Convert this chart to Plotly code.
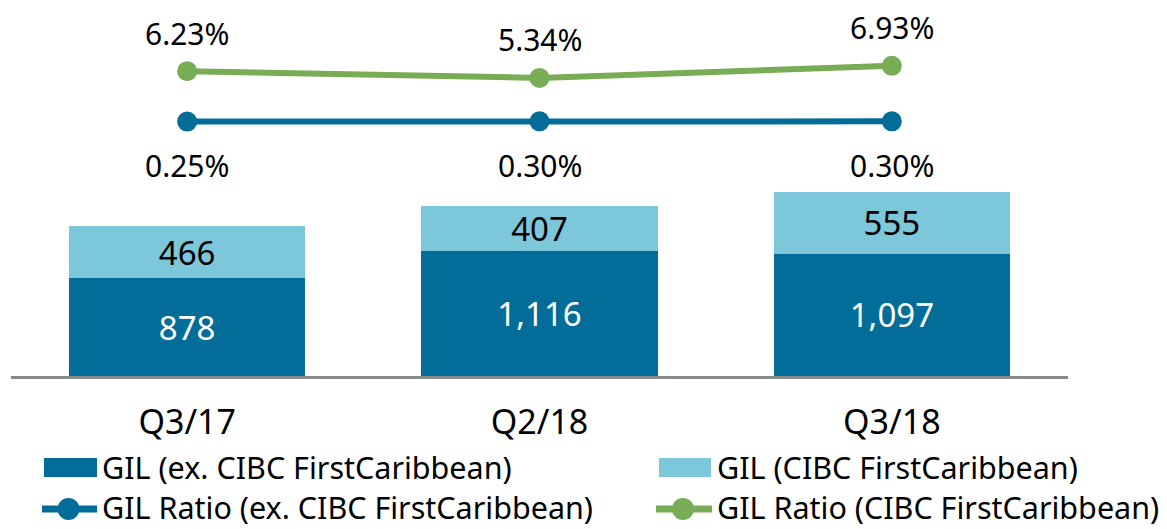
import plotly.graph_objects as go

# ---------------- data ----------------
quarters = ["Q3/17", "Q2/18", "Q3/18"]
gil_ex_fcib = [878, 1116, 1097]          # GIL (ex. CIBC FirstCaribbean)
gil_fcib = [466, 407, 555]               # GIL (CIBC FirstCaribbean)
ratio_ex_fcib = [0.25, 0.30, 0.30]       # GIL Ratio (ex. CIBC FirstCaribbean), %
ratio_fcib = [6.23, 5.34, 6.93]          # GIL Ratio (CIBC FirstCaribbean), %

legend_names = [
    "GIL (ex. CIBC FirstCaribbean)",
    "GIL (CIBC FirstCaribbean)",
    "GIL Ratio (ex. CIBC FirstCaribbean)",
    "GIL Ratio (CIBC FirstCaribbean)",
]

# ---------------- style ----------------
DARK = "#026D99"
LIGHT = "#7CC7DA"
GREEN = "#78AC55"
BLUE = "#046C98"
AXIS = "#8A8A8A"
W, H = 1167, 529
ML, MR, MT, MB = 11, 99, 10, 153
PW, PH = W - ML - MR, H - MT - MB

FONT = "Noto Sans, Open Sans, sans-serif"

fig = go.Figure()

fig.add_trace(go.Bar(
    x=quarters, y=gil_ex_fcib, name=legend_names[0], marker_color=DARK,
    marker_line_width=0,
    text=[f"{v:,}" for v in gil_ex_fcib], textposition="inside",
    insidetextanchor="middle", textangle=0, constraintext="none",
    textfont=dict(color="white", size=33, family=FONT),
    showlegend=False, hoverinfo="skip",
))
fig.add_trace(go.Bar(
    x=quarters, y=gil_fcib, name=legend_names[1], marker_color=LIGHT,
    marker_line_width=0,
    text=[f"{v:,}" for v in gil_fcib], textposition="inside",
    insidetextanchor="middle", textangle=0, constraintext="none",
    textfont=dict(color="black", size=33, family=FONT),
    showlegend=False, hoverinfo="skip",
))
fig.add_trace(go.Scatter(
    x=quarters, y=ratio_fcib, yaxis="y2", mode="lines+markers",
    name=legend_names[3], line=dict(color=GREEN, width=6),
    marker=dict(color=GREEN, size=20), showlegend=False, hoverinfo="skip",
))
fig.add_trace(go.Scatter(
    x=quarters, y=ratio_ex_fcib, yaxis="y3", mode="lines+markers",
    name=legend_names[2], line=dict(color=BLUE, width=6),
    marker=dict(color=BLUE, size=20), showlegend=False, hoverinfo="skip",
))

annotations = []
for q, v in zip(quarters, ratio_fcib):
    annotations.append(dict(x=q, y=v, xref="x", yref="y2", text=f"{v:.2f}%",
                            showarrow=False, yshift=38,
                            font=dict(size=30, color="black", family=FONT)))
for q, v in zip(quarters, ratio_ex_fcib):
    annotations.append(dict(x=q, y=v, xref="x", yref="y3", text=f"{v:.2f}%",
                            showarrow=False, yshift=-44,
                            font=dict(size=30, color="black", family=FONT)))


# ---------------- manual legend ----------------
def px(xp):
    return (xp - ML) / PW


def py(yp):
    return (H - MB - yp) / PH


shapes = []
legend_items = [
    # (name index, kind, color, symbol x0, symbol x1, symbol y, text x, text y)
    (0, "bar", DARK, 44, 97, 467.5, 100, 467),
    (1, "bar", LIGHT, 659, 711, 467.5, 715, 467),
    (2, "line", BLUE, 42, 97, 509, 100, 507),
    (3, "line", GREEN, 656, 712, 509, 715, 507),
]
for idx, kind, col, x0, x1, yc, tx, ty in legend_items:
    if kind == "bar":
        shapes.append(dict(type="rect", xref="paper", yref="paper",
                           x0=px(x0), x1=px(x1), y0=py(yc - 9.5), y1=py(yc + 9.5),
                           fillcolor=col, line_width=0))
    else:
        shapes.append(dict(type="line", xref="paper", yref="paper",
                           x0=px(x0), x1=px(x1), y0=py(yc), y1=py(yc),
                           line=dict(color=col, width=7)))
        cx = (x0 + x1) / 2 - 1
        shapes.append(dict(type="circle", xref="paper", yref="paper",
                           x0=px(cx - 11), x1=px(cx + 11), y0=py(yc - 11), y1=py(yc + 11),
                           fillcolor=col, line_width=0))
    annotations.append(dict(x=px(tx), y=py(ty), xref="paper", yref="paper",
                            xanchor="left", yanchor="middle", showarrow=False,
                            text=legend_names[idx],
                            font=dict(size=30.5, color="black", family=FONT)))

fig.update_layout(
    width=W, height=H,
    margin=dict(l=ML, r=MR, t=MT, b=MB, pad=0),
    paper_bgcolor="white", plot_bgcolor="white",
    barmode="stack", bargap=0.33,
    showlegend=False,
    xaxis=dict(range=[-0.5, 2.5], showline=True, linecolor=AXIS, linewidth=3,
               showgrid=False, zeroline=False, ticks="",
               tickfont=dict(size=34, color="black", family=FONT),
               ticklabelstandoff=14, fixedrange=True),
    yaxis=dict(range=[0, 3280], visible=False, showgrid=False, zeroline=False,
               fixedrange=True),
    yaxis2=dict(range=[-34.09, 14.32], overlaying="y", visible=False,
                showgrid=False, zeroline=False, fixedrange=True),
    yaxis3=dict(range=[-50.63, 22.57], overlaying="y", visible=False,
                showgrid=False, zeroline=False, fixedrange=True),
    uniformtext=dict(minsize=33, mode="show"),
    annotations=annotations,
    shapes=shapes,
)

fig.write_html("out.html", config={"displayModeBar": False},
               post_script="document.body.style.margin='0';")
